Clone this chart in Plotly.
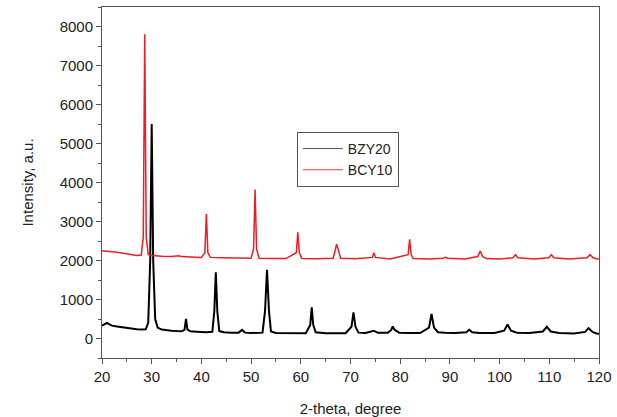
import plotly.graph_objects as go

# XRD patterns: 2-theta (degree) and intensity (a.u.)
bzy20_2theta = [
    20.0, 20.5, 21.0, 21.5, 22.0, 23.0, 24.0, 25.0, 26.0, 27.0, 28.0, 28.8,
    29.3, 29.7, 30.0, 30.3, 30.7, 31.2, 32.0, 33.0, 34.0, 35.0, 36.0, 36.6,
    36.9, 37.2, 37.8, 39.0, 40.0, 41.0, 42.2, 42.6, 42.9, 43.2, 43.6, 44.5,
    46.0, 47.5, 48.2, 48.8, 50.0, 51.0, 52.3, 52.8, 53.2, 53.6, 54.0, 55.0,
    57.0, 59.0, 61.0, 61.9, 62.2, 62.5, 63.0, 65.0, 67.0, 69.0, 70.2, 70.6,
    71.0, 71.6, 73.0, 74.7, 75.5, 77.5, 78.2, 78.5, 78.9, 79.8, 82.0, 84.0,
    85.8, 86.3, 86.8, 87.6, 89.0, 91.0, 93.3, 93.9, 94.5, 96.0, 99.0, 100.9,
    101.6, 102.3, 103.5, 106.0, 108.7, 109.5, 110.3, 112.0, 115.0, 117.2,
    117.9, 118.7, 119.5, 120.0,
]
bzy20_intensity = [
    330, 360, 400, 360, 330, 310, 290, 270, 250, 240, 230, 235,
    400, 2000, 5500, 2000, 500, 280, 230, 210, 200, 190, 185, 220,
    500, 230, 185, 175, 165, 160, 170, 700, 1700, 700, 190, 160,
    150, 150, 220, 150, 140, 140, 150, 700, 1760, 700, 180, 140,
    135, 130, 135, 350, 800, 350, 160, 135, 130, 135, 300, 670,
    300, 150, 140, 200, 145, 145, 220, 310, 220, 150, 140, 140,
    280, 630, 280, 160, 145, 140, 160, 225, 160, 140, 140, 200,
    360, 200, 150, 140, 180, 300, 180, 140, 130, 170,
    265, 170, 130, 120,
]

bcy10_2theta = [
    20.0, 21.0, 22.0, 23.0, 24.0, 25.0, 26.0, 27.0, 27.9, 28.3, 28.6, 28.9,
    29.3, 30.0, 32.0, 34.0, 35.5, 36.0, 38.0, 40.0, 40.7, 41.0, 41.3, 41.8,
    44.0, 46.0, 47.5, 48.0, 50.0, 50.5, 50.8, 51.1, 51.6, 54.0, 57.0, 59.1,
    59.4, 59.7, 60.2, 63.0, 66.5, 66.9, 67.2, 67.6, 68.0, 71.0, 74.4, 74.7,
    75.0, 78.0, 81.6, 81.9, 82.2, 82.6, 86.0, 88.6, 89.1, 89.6, 93.0, 95.6,
    96.1, 96.6, 97.3, 100.0, 102.7, 103.2, 103.7, 107.0, 109.9, 110.4, 110.9,
    114.0, 117.6, 118.2, 118.8, 119.5, 120.0,
]
bcy10_intensity = [
    2250, 2240, 2220, 2210, 2190, 2170, 2150, 2130, 2140, 2600, 7800, 2600,
    2150, 2130, 2110, 2100, 2120, 2100, 2090, 2080, 2200, 3190, 2200, 2080,
    2070, 2065, 2080, 2065, 2055, 2300, 3820, 2300, 2060, 2050, 2050, 2200,
    2720, 2200, 2050, 2045, 2060, 2250, 2420, 2250, 2060, 2045, 2080, 2200,
    2080, 2040, 2150, 2540, 2150, 2050, 2040, 2060, 2085, 2060, 2040, 2100,
    2240, 2100, 2050, 2040, 2070, 2150, 2070, 2040, 2070, 2150, 2070,
    2040, 2070, 2150, 2070, 2045, 2040,
]

series_names = ["BZY20", "BCY10"]
series_colors = ["#000000", "#ee1c25"]
legend_colors = ["#555555", "#ee3a44"]

x_ticks = [20, 30, 40, 50, 60, 70, 80, 90, 100, 110, 120]
y_ticks = [0, 1000, 2000, 3000, 4000, 5000, 6000, 7000, 8000]

font_family = "Arial, Liberation Sans, sans-serif"
axis_color = "#555555"
text_color = "#222222"

fig = go.Figure()
fig.add_trace(go.Scatter(
    x=bzy20_2theta, y=bzy20_intensity, mode="lines", name=series_names[0],
    line=dict(color=series_colors[0], width=2), showlegend=False,
))
fig.add_trace(go.Scatter(
    x=bcy10_2theta, y=bcy10_intensity, mode="lines", name=series_names[1],
    line=dict(color=series_colors[1], width=1.5), showlegend=False,
))
# thin-line legend entries
for name, color in zip(series_names, legend_colors):
    fig.add_trace(go.Scatter(
        x=[None], y=[None], mode="lines", name=name,
        line=dict(color=color, width=1),
    ))

fig.update_layout(
    width=617, height=417,
    margin=dict(l=102, r=18, t=7, b=59),
    paper_bgcolor="white", plot_bgcolor="white",
    font=dict(family=font_family, size=15, color=text_color),
    legend=dict(
        x=0.392, y=0.644, xanchor="left", yanchor="top",
        bgcolor="white", bordercolor="#555555", borderwidth=1,
        font=dict(size=14, color=text_color),
        tracegroupgap=0, itemwidth=40,
    ),
    showlegend=True,
)

fig.update_xaxes(
    range=[20, 120], tickvals=x_ticks, automargin=False,
    showgrid=False, zeroline=False,
    showline=True, linecolor=axis_color, linewidth=1, mirror=True,
    ticks="outside", ticklen=5, tickcolor=axis_color,
    minor=dict(dtick=5, tick0=20, ticks="outside", ticklen=3, tickcolor=axis_color),
    tickfont=dict(size=15),
    title=dict(text="2-theta, degree", font=dict(size=15), standoff=20),
)
fig.update_yaxes(
    range=[-500, 8500], tickvals=y_ticks, automargin=False,
    showgrid=False, zeroline=False,
    showline=True, linecolor=axis_color, linewidth=1, mirror=True,
    ticks="outside", ticklen=5, tickcolor=axis_color,
    minor=dict(dtick=500, tick0=0, ticks="outside", ticklen=3, tickcolor=axis_color),
    tickfont=dict(size=15),
    title=dict(text="Intensity, a.u.", font=dict(size=15), standoff=22),
)

fig.write_html("out.html")
